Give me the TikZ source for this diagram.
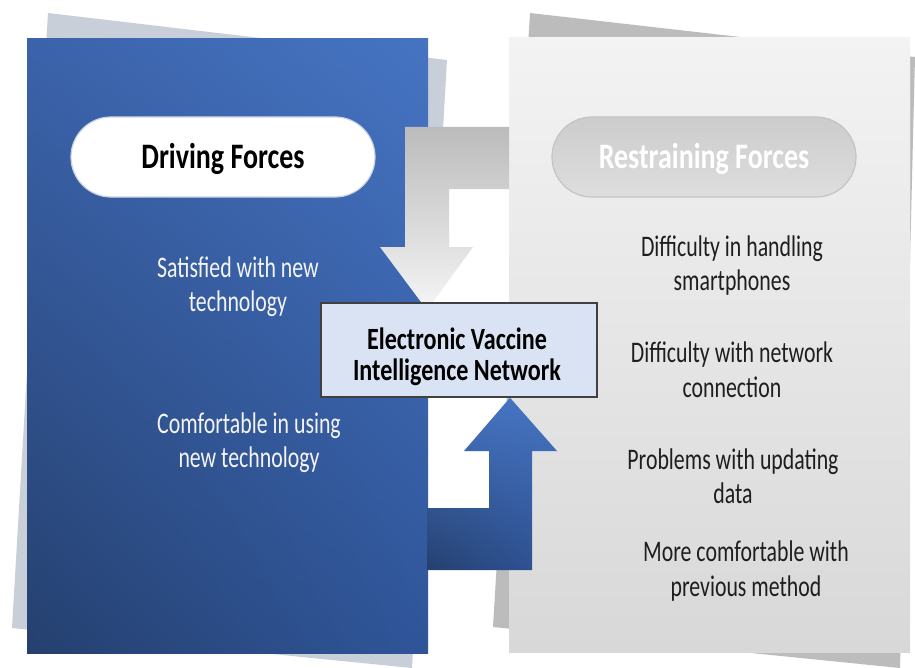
\documentclass[tikz,border=0pt]{standalone}
\usepackage{fontspec}
\setmainfont[FakeStretch=0.78]{Carlito}
\newfontfamily\listfont[FakeStretch=0.73]{Carlito}
\usetikzlibrary{shadings}

\definecolor{sheetblue}{HTML}{C8CFD9}
\definecolor{sheetgray}{HTML}{BCBCBC}
\definecolor{blueUL}{HTML}{3B63AB}
\definecolor{blueUR}{HTML}{4674C2}
\definecolor{blueLL}{HTML}{25406F}
\definecolor{blueLR}{HTML}{2F5599}
\definecolor{grayTop}{HTML}{F3F3F3}
\definecolor{grayBot}{HTML}{D8D8D8}
\definecolor{arrowTop}{HTML}{BBBBBB}
\definecolor{arrowBot}{HTML}{F5F5F5}
\definecolor{boxfill}{HTML}{DAE3F3}
\definecolor{boxline}{HTML}{404040}
\definecolor{inktext}{HTML}{1E1E1E}
\definecolor{paletext}{HTML}{F4F4F4}

\tikzset{
  bodytext/.style={font=\listfont\fontsize{30}{35}\selectfont, align=center, inner sep=0pt},
  onblue/.style={bodytext, text=paletext},
  ongray/.style={bodytext, text=inktext},
  pill/.style={rounded corners=40bp, minimum width=304bp, minimum height=80bp,
    inner sep=0pt, font=\bfseries\fontsize{36}{43}\selectfont,
    text height=23bp, text depth=0pt},
  boxtext/.style={font=\bfseries\fontsize{31}{29}\selectfont, align=center,
    inner sep=0pt, text=black},
  sysbox/.style={draw=boxline, line width=1.5bp, fill=boxfill, minimum width=276bp,
    minimum height=94bp, inner sep=0pt},
}

\begin{document}
\begin{tikzpicture}[x=1bp,y=-1bp]
  \fill[white] (0,0) rectangle (915,668);
  \useasboundingbox (0,0) rectangle (915,668);

  % loose sheets lying behind both panels
  \fill[sheetblue] (48,13) -- (447,60) -- (412,668) -- (12,628) -- cycle;
  \fill[sheetgray] (530,13) -- (915,57) -- (900,668) -- (493,627) -- cycle;

  % the two panels
  \shade[upper left=blueUL, upper right=blueUR, lower left=blueLL, lower right=blueLR]
    (27,39) rectangle (428,653);
  \shade[top color=grayTop, bottom color=grayBot] (509,38) rectangle (910,652);

  % central system box (placed first so the arrows can refer to it)
  \node[sysbox] (evin) at (459,350) {};

  % restraining arrow: from the right panel down onto the box
  \shade[top color=arrowTop, bottom color=arrowBot]
    (509,127) -- (405,127) -- (405,247) -- (380,247) -- (427,310)
    -- (473,247) -- (449,247) -- (449,189) -- (509,189) -- cycle;

  % driving arrow: from the left panel up into the box
  \shade[upper left=blueUR, upper right=blueUR, lower left=blueLL, lower right=blueLR]
    (427,570) -- (427,508) -- (489,508) -- (489,451) -- (464,451)
    -- (evin.south -| 510,0) -- (557,451) -- (532,451) -- (532,570) -- cycle;

  % box redrawn on top of the grey arrow tip
  \node[sysbox] (evinfront) at (evin.center) {};
  \node[boxtext] (evintext) at (457,358.7)
    {\strut Electronic Vaccine\\Intelligence Network\strut};

  % headings
  \node[pill, fill=white, draw={rgb,255:red,200;green,210;blue,228}, line width=1.2bp]
    (drive) at (223,157) {Driving Forces};
  \node[pill, top color={rgb,255:red,204;green,204;blue,204},
        bottom color={rgb,255:red,222;green,222;blue,222},
        draw={rgb,255:red,196;green,196;blue,196}, line width=1.2bp, text=white]
    (restrain) at (704,157) {Restraining Forces};

  % driving forces
  \node[onblue] (satisfied) at (238,287.5) {\strut Satisfied with new\\technology\strut};
  \node[onblue] (comfortable) at (249,443.5) {\strut Comfortable in using\\new technology\strut};

  % restraining forces
  \node[ongray] (handling) at (732,266.5) {\strut Difficulty in handling\\smartphones\strut};
  \node[ongray] (network) at (732,373) {\strut Difficulty with network\\connection\strut};
  \node[ongray] (updating) at (733,479.5) {\strut Problems with updating\\data\strut};
  \node[ongray] (previous) at (746,572) {\strut More comfortable with\\previous method\strut};
\end{tikzpicture}
\end{document}
